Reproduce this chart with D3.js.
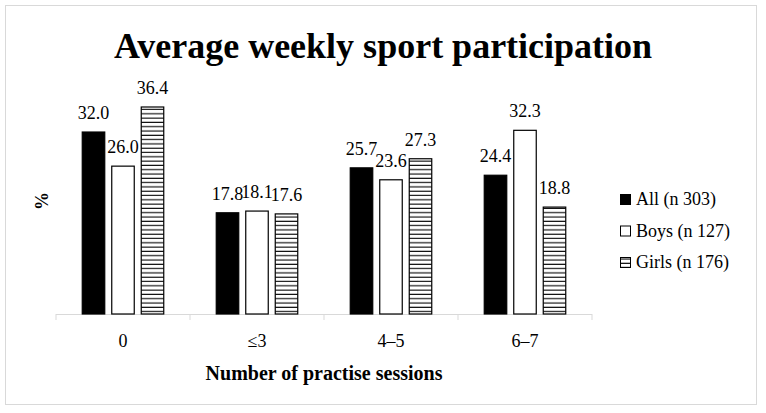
<!DOCTYPE html>
<html>
<head>
<meta charset="utf-8">
<script src="https://cdn.jsdelivr.net/npm/d3@7"></script>
<style>
  body { margin: 0; background: #fff; }
</style>
</head>
<body>
<svg id="chart" width="766" height="413"></svg>
<script>
// data
var categories = ["0", "\u22643", "4\u20135", "6\u20137"];
var seriesNames = ["All (n 303)", "Boys (n 127)", "Girls (n 176)"];
var allValues = [32.0, 17.8, 25.7, 24.4];
var boysValues = [26.0, 18.1, 23.6, 32.3];
var girlsValues = [36.4, 17.6, 27.3, 18.8];

var svg = d3.select("#chart");
var serif = "'Liberation Serif', 'Times New Roman', serif";

// outer frame
svg.append("rect")
  .attr("x", 5.5).attr("y", 5.5)
  .attr("width", 751).attr("height", 399)
  .attr("fill", "#fff").attr("stroke", "#d9d9d9");

var defs = svg.append("defs");
var pat = defs.append("pattern")
  .attr("id", "stripes")
  .attr("patternUnits", "userSpaceOnUse")
  .attr("width", 8).attr("height", 4.3);
pat.append("rect").attr("width", 8).attr("height", 4.3).attr("fill", "#fff");
pat.append("line")
  .attr("x1", 0).attr("x2", 8)
  .attr("y1", 2).attr("y2", 2)
  .attr("stroke", "#000").attr("stroke-width", 1.1);

var fills = ["#000", "#fff", "url(#stripes)"];

var left = 56, right = 592, base = 314;
var x = d3.scaleBand().domain(categories).range([left, right]);
var barW = 23.5, gap = 6;
var groupW = barW * 3 + gap * 2;
var y = d3.scaleLinear().domain([0, 36.4]).range([base, 107]);

var series = [allValues, boysValues, girlsValues];
var rows = [];
series.forEach(function(vals, s) {
  vals.forEach(function(v, i) {
    rows.push({ s: s, cat: categories[i], v: v });
  });
});

function barX(d) {
  return x(d.cat) + x.bandwidth() / 2 - groupW / 2 + d.s * (barW + gap);
}

// axis line + ticks
svg.append("line")
  .attr("x1", left).attr("x2", right)
  .attr("y1", base + 0.5).attr("y2", base + 0.5)
  .attr("stroke", "#d9d9d9");
svg.selectAll(".tick")
  .data(d3.range(categories.length + 1))
  .enter().append("line")
  .attr("x1", function(i) { return left + i * x.step(); })
  .attr("x2", function(i) { return left + i * x.step(); })
  .attr("y1", base).attr("y2", base + 6)
  .attr("stroke", "#d9d9d9");

svg.selectAll(".bar")
  .data(rows)
  .enter().append("rect")
  .attr("x", function(d) { return barX(d) + 0.5; })
  .attr("y", function(d) { return y(d.v); })
  .attr("width", barW - 1)
  .attr("height", function(d) { return base - y(d.v); })
  .attr("fill", function(d) { return fills[d.s]; })
  .attr("stroke", "#000")
  .attr("stroke-width", 1.2);

svg.selectAll(".val")
  .data(rows)
  .enter().append("text")
  .attr("x", function(d) { return barX(d) + barW / 2; })
  .attr("y", function(d) { return y(d.v) - 13; })
  .attr("text-anchor", "middle")
  .attr("font-family", serif)
  .attr("font-size", 18)
  .text(function(d) { return d.v.toFixed(1); });

// category labels
svg.selectAll(".cat")
  .data(categories)
  .enter().append("text")
  .attr("x", function(d) { return x(d) + x.bandwidth() / 2; })
  .attr("y", 347)
  .attr("text-anchor", "middle")
  .attr("font-family", serif)
  .attr("font-size", 18)
  .text(function(d) { return d; });

svg.append("text")
  .attr("x", 324)
  .attr("y", 380)
  .attr("text-anchor", "middle")
  .attr("font-family", serif)
  .attr("font-size", 20)
  .attr("font-weight", "bold")
  .text("Number of practise sessions");

svg.append("text")
  .attr("transform", "translate(48,201) rotate(-90)")
  .attr("text-anchor", "middle")
  .attr("font-family", serif)
  .attr("font-size", 18)
  .attr("font-weight", "bold")
  .text("%");

svg.append("text")
  .attr("x", 383)
  .attr("y", 58)
  .attr("text-anchor", "middle")
  .attr("font-family", serif)
  .attr("font-size", 36)
  .attr("font-weight", "bold")
  .text("Average weekly sport participation");

// legend
var legend = svg.selectAll(".leg")
  .data(seriesNames)
  .enter().append("g")
  .attr("transform", function(d, i) { return "translate(620," + (194 + i * 31.5) + ")"; });
legend.append("rect")
  .attr("x", 0.5).attr("y", 0.5)
  .attr("width", 10).attr("height", 10)
  .attr("fill", function(d, i) { return fills[i]; })
  .attr("stroke", "#000");
legend.append("text")
  .attr("x", 16).attr("y", 11)
  .attr("font-family", serif)
  .attr("font-size", 18)
  .text(function(d) { return d; });
</script>
</body>
</html>
